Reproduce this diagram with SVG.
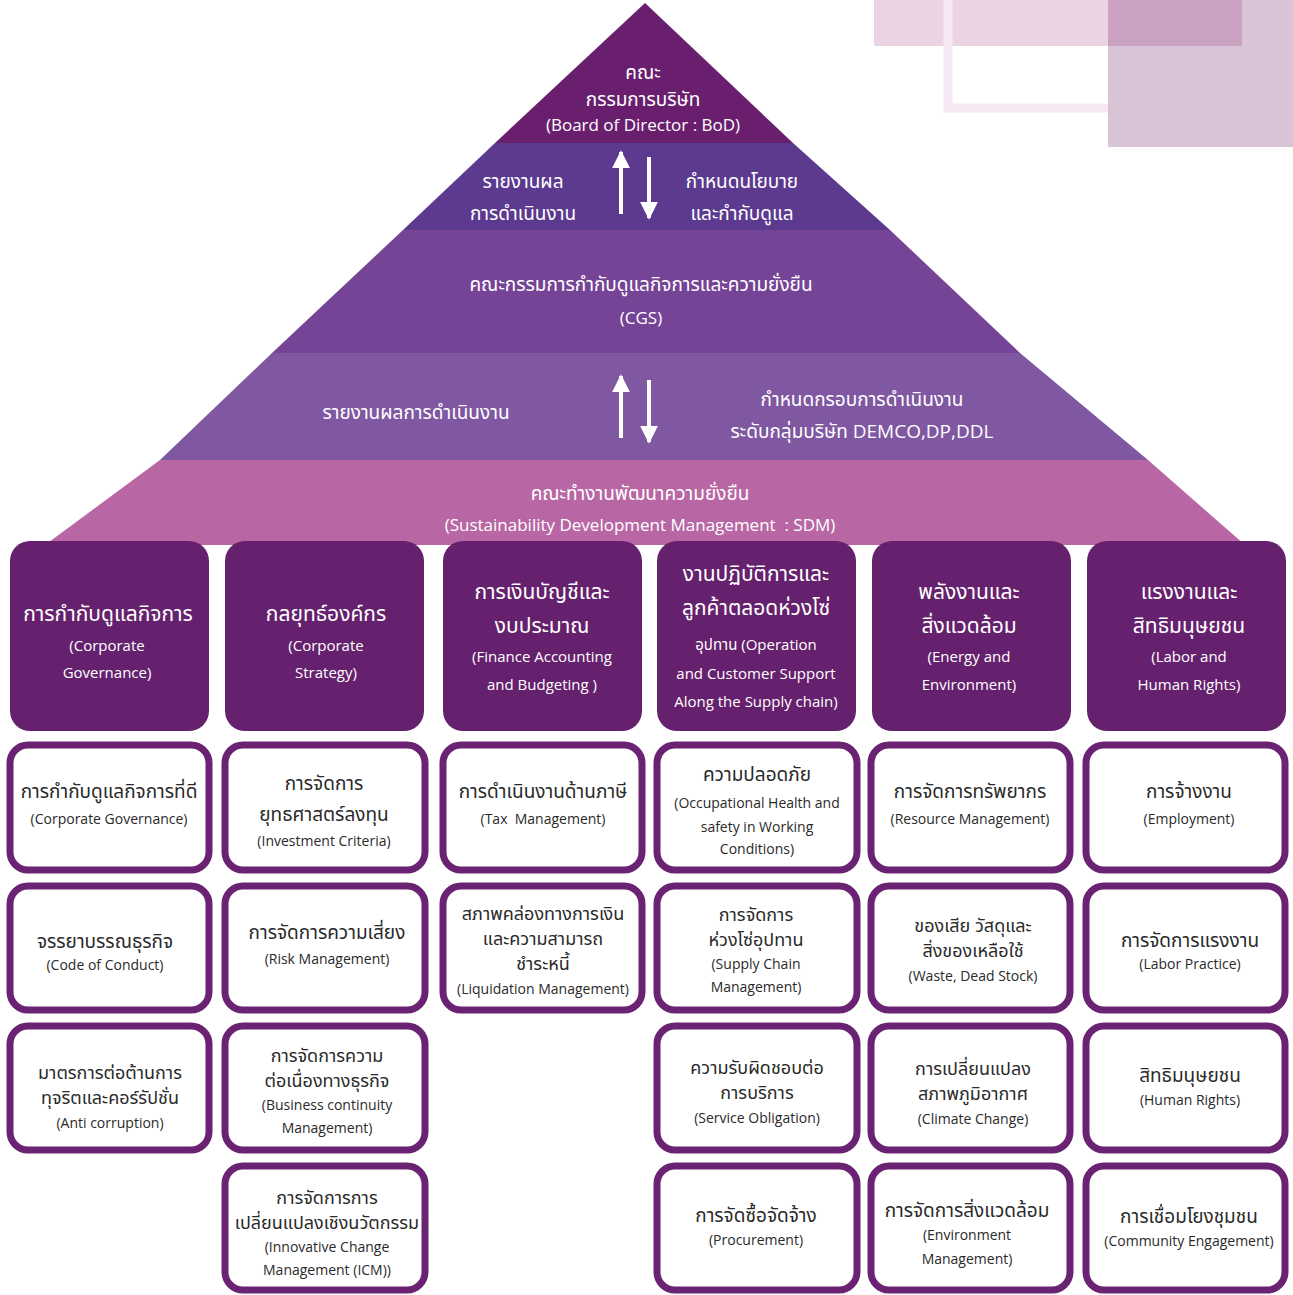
<svg xmlns="http://www.w3.org/2000/svg" width="1293" height="1295" viewBox="0 0 1293 1295">
<defs>
<marker id="ah" viewBox="0 0 10 10" refX="9" refY="5" markerWidth="4.5" markerHeight="5" orient="auto" markerUnits="strokeWidth">
<path d="M0,0 L10,5 L0,10 Z" fill="#ffffff"/>
</marker>
<style>
text{font-family:"Open Sans","Noto Sans Thai","Noto Sans",sans-serif;text-anchor:middle}
.w{fill:#ffffff}
.k{fill:#2a2a2a}
.t1{font-size:19px}
.t2{font-size:17px}
.h{font-size:21px}
.he{font-size:15px}
.s{font-size:19px}
.s2{font-size:18px}
.se{font-size:14px}
.hb{fill:#66216e}
.sb{fill:#ffffff;stroke:#6a2373;stroke-width:7}
.arr{stroke:#ffffff;stroke-width:4;fill:none;marker-end:url(#ah)}
</style>
</defs>
<rect width="1293" height="1295" fill="#ffffff"/>
<g id="decor">
<rect x="874" y="0" width="368" height="46" fill="#ead4e3"/>
<rect x="948" y="-10" width="227" height="118" fill="none" stroke="#f6e8f2" stroke-width="9"/>
<rect x="1108" y="0" width="185" height="147" fill="#d8c4d6"/>
<rect x="1108" y="0" width="134" height="46" fill="#cba2c2"/>
</g>
<g id="pyramid">
<polygon points="645,3 495,143 793,143" fill="#6a1f6e"/>
<polygon points="495,143 793,143 890,230 403,230" fill="#5b3a8f"/>
<polygon points="403,230 890,230 1020,353 272,353" fill="#754496"/>
<polygon points="272,353 1020,353 1148,460 160,460" fill="#8058a1"/>
<polygon points="160,460 1148,460 1245,545 45,545" fill="#b967a4"/>
</g>
<g id="bod">
<text class="w t1" x="643" y="79">คณะ</text>
<text class="w t1" x="643" y="106">กรรมการบริษัท</text>
<text class="w t2" x="643" y="131">(Board of Director : BoD)</text>
</g>
<g id="band-report1">
<text class="w t1" x="523" y="188">รายงานผล</text>
<text class="w t1" x="523" y="220">การดำเนินงาน</text>
</g>
<g id="band-policy1">
<text class="w t1" x="742" y="188">กำหนดนโยบาย</text>
<text class="w t1" x="742" y="220">และกำกับดูแล</text>
</g>
<g id="cgs">
<text class="w t1" x="641" y="291">คณะกรรมการกำกับดูแลกิจการและความยั่งยืน</text>
<text class="w t2" x="641" y="324">(CGS)</text>
</g>
<g id="band-report2">
<text class="w t1" x="416" y="419">รายงานผลการดำเนินงาน</text>
</g>
<g id="band-policy2">
<text class="w t1" x="862" y="406">กำหนดกรอบการดำเนินงาน</text>
<text class="w t1" x="862" y="438">ระดับกลุ่มบริษัท DEMCO,DP,DDL</text>
</g>
<g id="sdm">
<text class="w t1" x="640" y="500">คณะทำงานพัฒนาความยั่งยืน</text>
<text class="w t2" x="640" y="531" xml:space="preserve">(Sustainability Development Management  : SDM)</text>
</g>
<g id="connectors">
<line class="arr" x1="621" y1="214" x2="621" y2="152"/>
<line class="arr" x1="649" y1="157" x2="649" y2="218"/>
<line class="arr" x1="621" y1="438" x2="621" y2="376"/>
<line class="arr" x1="649" y1="380" x2="649" y2="442"/>
</g>
<g id="h1"><rect class="hb" x="10" y="541" width="199" height="190" rx="20"/>
<text class="w h" x="108" y="621">การกำกับดูแลกิจการ</text>
<text class="w he" x="107" y="651">(Corporate</text>
<text class="w he" x="107" y="678">Governance)</text></g>
<g id="h2"><rect class="hb" x="225" y="541" width="199" height="190" rx="20"/>
<text class="w h" x="326" y="621">กลยุทธ์องค์กร</text>
<text class="w he" x="326" y="651">(Corporate</text>
<text class="w he" x="326" y="678">Strategy)</text></g>
<g id="h3"><rect class="hb" x="443" y="541" width="199" height="190" rx="20"/>
<text class="w h" x="542" y="599">การเงินบัญชีและ</text>
<text class="w h" x="542" y="633">งบประมาณ</text>
<text class="w he" x="542" y="662">(Finance Accounting</text>
<text class="w he" x="542" y="690">and Budgeting )</text></g>
<g id="h4"><rect class="hb" x="657" y="541" width="199" height="190" rx="20"/>
<text class="w h" x="756" y="581">งานปฏิบัติการและ</text>
<text class="w h" x="756" y="615">ลูกค้าตลอดห่วงโซ่</text>
<text class="w he" x="756" y="650">อุปทาน (Operation</text>
<text class="w he" x="756" y="679">and Customer Support</text>
<text class="w he" x="756" y="707">Along the Supply chain)</text></g>
<g id="h5"><rect class="hb" x="872" y="541" width="199" height="190" rx="20"/>
<text class="w h" x="969" y="599">พลังงานและ</text>
<text class="w h" x="969" y="633">สิ่งแวดล้อม</text>
<text class="w he" x="969" y="662">(Energy and</text>
<text class="w he" x="969" y="690">Environment)</text></g>
<g id="h6"><rect class="hb" x="1087" y="541" width="199" height="190" rx="20"/>
<text class="w h" x="1189" y="599">แรงงานและ</text>
<text class="w h" x="1189" y="633">สิทธิมนุษยชน</text>
<text class="w he" x="1189" y="662">(Labor and</text>
<text class="w he" x="1189" y="690">Human Rights)</text></g>

<g id="c1r1"><rect class="sb" x="10" y="745" width="199" height="125" rx="18"/>
<text class="k s" x="109" y="798">การกำกับดูแลกิจการที่ดี</text>
<text class="k se" x="109" y="824">(Corporate Governance)</text></g>
<g id="c1r2"><rect class="sb" x="10" y="886" width="199" height="124" rx="18"/>
<text class="k s" x="105" y="948">จรรยาบรรณธุรกิจ</text>
<text class="k se" x="105" y="970">(Code of Conduct)</text></g>
<g id="c1r3"><rect class="sb" x="10" y="1026" width="199" height="124" rx="18"/>
<text class="k s2" x="110" y="1079">มาตรการต่อต้านการ</text>
<text class="k s2" x="110" y="1104">ทุจริตและคอร์รัปชั่น</text>
<text class="k se" x="110" y="1128">(Anti corruption)</text></g>

<g id="c2r1"><rect class="sb" x="225" y="745" width="200" height="125" rx="18"/>
<text class="k s" x="324" y="790">การจัดการ</text>
<text class="k s" x="324" y="821">ยุทธศาสตร์ลงทุน</text>
<text class="k se" x="324" y="846">(Investment Criteria)</text></g>
<g id="c2r2"><rect class="sb" x="225" y="886" width="200" height="124" rx="18"/>
<text class="k s" x="327" y="939">การจัดการความเสี่ยง</text>
<text class="k se" x="327" y="964">(Risk Management)</text></g>
<g id="c2r3"><rect class="sb" x="225" y="1026" width="200" height="124" rx="18"/>
<text class="k s2" x="327" y="1062">การจัดการความ</text>
<text class="k s2" x="327" y="1087">ต่อเนื่องทางธุรกิจ</text>
<text class="k se" x="327" y="1110">(Business continuity</text>
<text class="k se" x="327" y="1133">Management)</text></g>
<g id="c2r4"><rect class="sb" x="225" y="1166" width="200" height="124" rx="18"/>
<text class="k s2" x="327" y="1204">การจัดการการ</text>
<text class="k s2" x="327" y="1229">เปลี่ยนแปลงเชิงนวัตกรรม</text>
<text class="k se" x="327" y="1252">(Innovative Change</text>
<text class="k se" x="327" y="1275">Management (ICM))</text></g>

<g id="c3r1"><rect class="sb" x="443" y="745" width="199" height="125" rx="18"/>
<text class="k s" x="543" y="798">การดำเนินงานด้านภาษี</text>
<text class="k se" x="543" y="824" xml:space="preserve">(Tax  Management)</text></g>
<g id="c3r2"><rect class="sb" x="443" y="886" width="199" height="124" rx="18"/>
<text class="k s2" x="543" y="920">สภาพคล่องทางการเงิน</text>
<text class="k s2" x="543" y="945">และความสามารถ</text>
<text class="k s2" x="543" y="970">ชำระหนี้</text>
<text class="k se" x="543" y="994">(Liquidation Management)</text></g>

<g id="c4r1"><rect class="sb" x="657" y="745" width="200" height="125" rx="18"/>
<text class="k s" x="757" y="781">ความปลอดภัย</text>
<text class="k se" x="757" y="808">(Occupational Health and</text>
<text class="k se" x="757" y="832">safety in Working</text>
<text class="k se" x="757" y="854">Conditions)</text></g>
<g id="c4r2"><rect class="sb" x="657" y="886" width="200" height="124" rx="18"/>
<text class="k s2" x="756" y="921">การจัดการ</text>
<text class="k s2" x="756" y="946">ห่วงโซ่อุปทาน</text>
<text class="k se" x="756" y="969">(Supply Chain</text>
<text class="k se" x="756" y="992">Management)</text></g>
<g id="c4r3"><rect class="sb" x="657" y="1026" width="200" height="124" rx="18"/>
<text class="k s2" x="757" y="1074">ความรับผิดชอบต่อ</text>
<text class="k s2" x="757" y="1099">การบริการ</text>
<text class="k se" x="757" y="1123">(Service Obligation)</text></g>
<g id="c4r4"><rect class="sb" x="657" y="1166" width="200" height="124" rx="18"/>
<text class="k s" x="756" y="1222">การจัดซื้อจัดจ้าง</text>
<text class="k se" x="756" y="1245">(Procurement)</text></g>

<g id="c5r1"><rect class="sb" x="871" y="745" width="199" height="125" rx="18"/>
<text class="k s" x="970" y="798">การจัดการทรัพยากร</text>
<text class="k se" x="970" y="824">(Resource Management)</text></g>
<g id="c5r2"><rect class="sb" x="871" y="886" width="199" height="124" rx="18"/>
<text class="k s2" x="973" y="932">ของเสีย วัสดุและ</text>
<text class="k s2" x="973" y="957">สิ่งของเหลือใช้</text>
<text class="k se" x="973" y="981">(Waste, Dead Stock)</text></g>
<g id="c5r3"><rect class="sb" x="871" y="1026" width="199" height="124" rx="18"/>
<text class="k s2" x="973" y="1075">การเปลี่ยนแปลง</text>
<text class="k s2" x="973" y="1100">สภาพภูมิอากาศ</text>
<text class="k se" x="973" y="1124">(Climate Change)</text></g>
<g id="c5r4"><rect class="sb" x="871" y="1166" width="199" height="124" rx="18"/>
<text class="k s" x="967" y="1217">การจัดการสิ่งแวดล้อม</text>
<text class="k se" x="967" y="1240">(Environment</text>
<text class="k se" x="967" y="1264">Management)</text></g>

<g id="c6r1"><rect class="sb" x="1086" y="745" width="199" height="125" rx="18"/>
<text class="k s" x="1189" y="798">การจ้างงาน</text>
<text class="k se" x="1189" y="824">(Employment)</text></g>
<g id="c6r2"><rect class="sb" x="1086" y="886" width="199" height="124" rx="18"/>
<text class="k s" x="1190" y="947">การจัดการแรงงาน</text>
<text class="k se" x="1190" y="969">(Labor Practice)</text></g>
<g id="c6r3"><rect class="sb" x="1086" y="1026" width="199" height="124" rx="18"/>
<text class="k s" x="1190" y="1082">สิทธิมนุษยชน</text>
<text class="k se" x="1190" y="1105">(Human Rights)</text></g>
<g id="c6r4"><rect class="sb" x="1086" y="1166" width="199" height="124" rx="18"/>
<text class="k s" x="1189" y="1223">การเชื่อมโยงชุมชน</text>
<text class="k se" x="1189" y="1246">(Community Engagement)</text></g>
</svg>
